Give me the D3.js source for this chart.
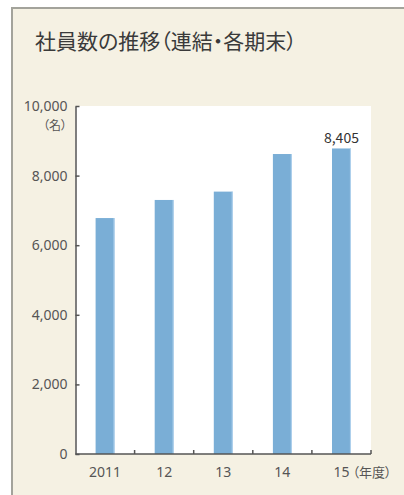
<!DOCTYPE html>
<html>
<head>
<meta charset="utf-8">
<script src="https://cdn.jsdelivr.net/npm/d3@7"></script>
<style>
  html, body { margin: 0; padding: 0; background: #fff; }
  svg { display: block; font-family: "Noto Sans CJK JP", "Noto Sans", sans-serif; }
  .jp { font-feature-settings: "palt"; }
</style>
</head>
<body>
<div id="chart"></div>
<script>
// data
const years = ['2011', '12', '13', '14', '15'];
const employees = [6780, 7300, 7540, 8620, 8780];
const lastLabel = '8,405';
const yTicks = [0, 2000, 4000, 6000, 8000, 10000];

const width = 404, height = 495;
const margin = { top: 106, right: 33, bottom: 41, left: 75.5 };

const svg = d3.select('#chart').append('svg')
  .attr('width', width)
  .attr('height', height);

// panel
svg.append('rect')
  .attr('x', 12).attr('y', 8)
  .attr('width', width - 12).attr('height', height - 8)
  .attr('fill', '#f5f1e3');
svg.append('line')
  .attr('x1', 12).attr('x2', width).attr('y1', 8).attr('y2', 8)
  .attr('stroke', '#a3a39b').attr('stroke-width', 2);
svg.append('line')
  .attr('x1', 12).attr('x2', 12).attr('y1', 7).attr('y2', height)
  .attr('stroke', '#a3a39b').attr('stroke-width', 2);

svg.append('text')
  .attr('class', 'jp')
  .attr('x', 35).attr('y', 49)
  .attr('font-size', 21)
  .attr('fill', '#3a3a3a')
  .text('社員数の推移（連結・各期末）');

const x = d3.scaleBand()
  .domain(years)
  .range([margin.left, width - margin.right])
  .paddingInner(0.68)
  .paddingOuter(0.34);

const y = d3.scaleLinear()
  .domain([0, 10000])
  .range([height - margin.bottom, margin.top]);

// white plot area
svg.append('rect')
  .attr('x', margin.left).attr('y', margin.top)
  .attr('width', width - margin.right - margin.left)
  .attr('height', height - margin.bottom - margin.top)
  .attr('fill', '#fff');

svg.selectAll('.bar')
  .data(years)
  .enter().append('rect')
  .attr('class', 'bar')
  .attr('x', d => x(d))
  .attr('width', x.bandwidth())
  .attr('y', (d, i) => y(employees[i]))
  .attr('height', (d, i) => y(0) - y(employees[i]))
  .attr('fill', '#7aaed6');

// light edge on the right of each bar
svg.selectAll('.edge')
  .data(years)
  .enter().append('rect')
  .attr('class', 'edge')
  .attr('x', d => x(d) + x.bandwidth() - 1)
  .attr('width', 1)
  .attr('y', (d, i) => y(employees[i]))
  .attr('height', (d, i) => y(0) - y(employees[i]))
  .attr('fill', '#b3d3ee');

svg.append('text')
  .attr('x', x('15') + x.bandwidth() / 2)
  .attr('y', y(employees[4]) - 5)
  .attr('text-anchor', 'middle')
  .attr('font-size', 14)
  .attr('fill', '#333')
  .text(lastLabel);

// y axis
const yAxis = svg.append('g')
  .attr('transform', `translate(${margin.left},0)`)
  .call(d3.axisLeft(y).tickValues(yTicks).tickSizeInner(-4).tickSizeOuter(0)
    .tickFormat(d3.format(',')));
yAxis.select('.domain').attr('stroke', '#555').attr('stroke-width', 1.5);
yAxis.selectAll('.tick line').attr('stroke', '#555').attr('stroke-width', 1.5);
yAxis.selectAll('.tick text')
  .attr('x', -8)
  .attr('font-size', 14)
  .attr('font-family', '"Noto Sans", sans-serif')
  .attr('fill', '#555');

svg.append('text')
  .attr('class', 'jp')
  .attr('x', 67).attr('y', 130)
  .attr('text-anchor', 'end')
  .attr('font-size', 12)
  .attr('fill', '#555')
  .text('（名）');

// x axis, ticks between bands pointing up
const xb = height - margin.bottom;
const bounds = d3.range(1, years.length + 1).map(i => margin.left + i * x.step());
svg.append('line')
  .attr('x1', margin.left).attr('x2', width - margin.right)
  .attr('y1', xb).attr('y2', xb)
  .attr('stroke', '#555').attr('stroke-width', 1.5);
svg.selectAll('.xtick')
  .data(bounds)
  .enter().append('line')
  .attr('class', 'xtick')
  .attr('x1', d => d).attr('x2', d => d)
  .attr('y1', xb).attr('y2', xb - 4)
  .attr('stroke', '#555').attr('stroke-width', 1.5);

svg.selectAll('.xlabel')
  .data(years)
  .enter().append('text')
  .attr('class', 'xlabel')
  .attr('x', d => x(d) + x.bandwidth() / 2)
  .attr('y', 477)
  .attr('text-anchor', 'middle')
  .attr('font-size', 14)
  .attr('font-family', '"Noto Sans", sans-serif')
  .attr('fill', '#555')
  .text(d => d);

svg.append('text')
  .attr('class', 'jp')
  .attr('x', x('15') + x.bandwidth() / 2 + 11)
  .attr('y', 477)
  .attr('font-size', 13)
  .attr('fill', '#555')
  .text('（年度）');
</script>
</body>
</html>
